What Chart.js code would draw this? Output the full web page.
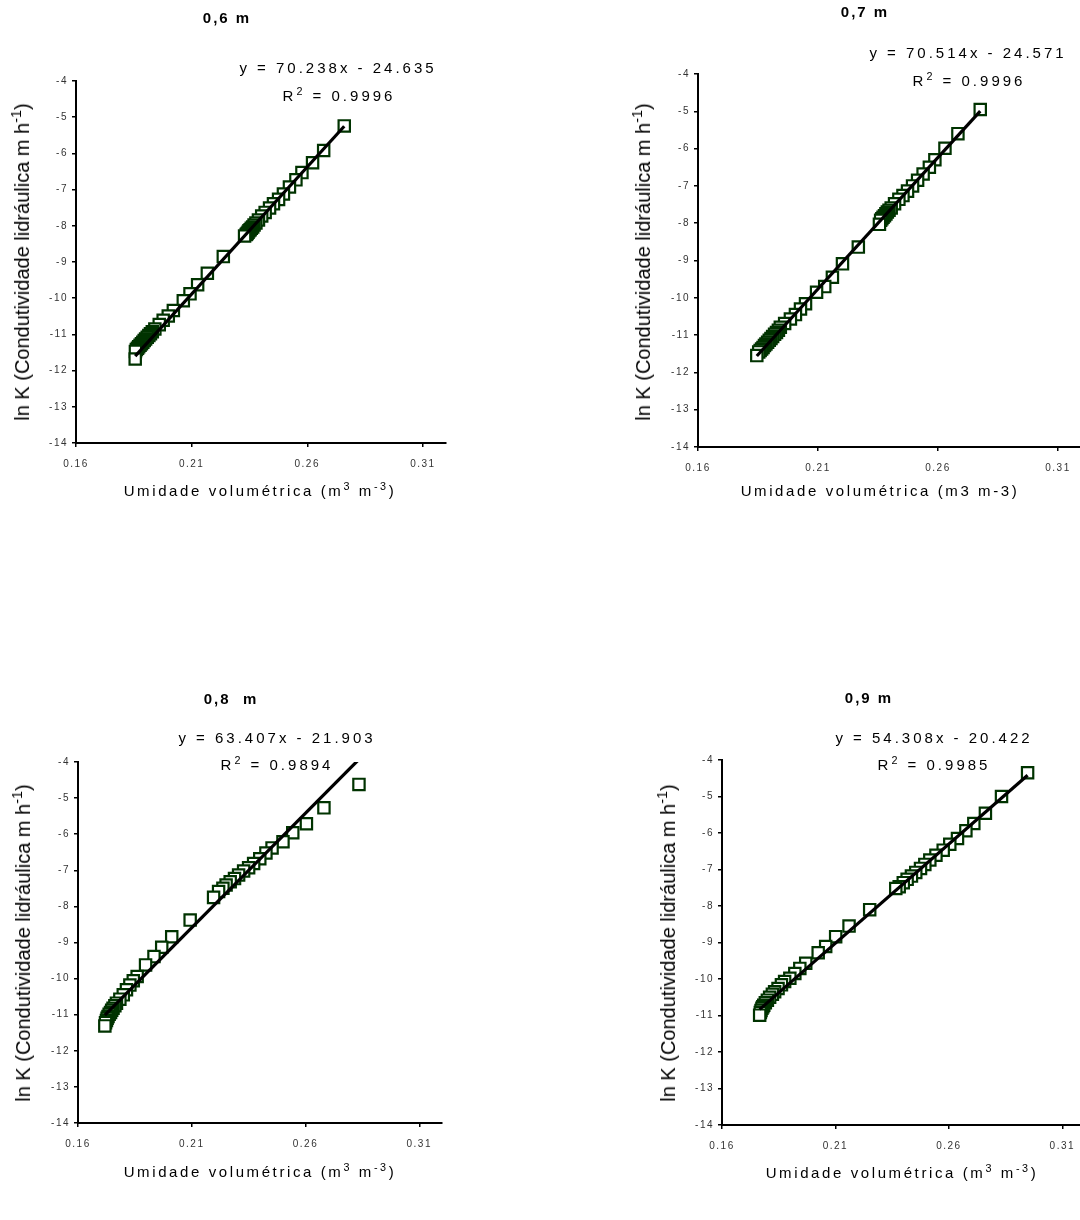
<!DOCTYPE html>
<html lang="pt">
<head>
<meta charset="utf-8">
<title>ln K x Umidade volumétrica</title>
<script src="https://cdn.jsdelivr.net/npm/chart.js@4.4.1/dist/chart.umd.min.js"></script>
<style>
  html, body { margin: 0; padding: 0; background: #fff; }
  body {
    width: 1080px; height: 1220px; overflow: hidden; position: relative;
    font-family: "Liberation Sans", Arial, sans-serif; color: #000;
  }
  .painel { position: absolute; }
  .txt { position: absolute; transform: translate(-50%, -50%); white-space: pre; line-height: 1; }
  .titulo { font-weight: bold; font-size: 15px; letter-spacing: 2px; }
  .eq { font-size: 15px; letter-spacing: 3px; }
  .eixoX { font-size: 15px; letter-spacing: 2.6px; }
  .eixoY { font-size: 20px; transform: translate(-50%, -50%) rotate(-90deg); }
  sup { font-size: 72%; line-height: 0; }
</style>
</head>
<body>

<script>
const profundidades = ["0,6 m", "0,7 m", "0,8  m", "0,9 m"];
const equacoes = ["y = 70.238x - 24.635", "y = 70.514x - 24.571", "y = 63.407x - 21.903", "y = 54.308x - 20.422"];
const valoresR2 = ["0.9996", "0.9996", "0.9894", "0.9985"];
const inclinacao = [70.238, 70.514, 63.407, 54.308];
const intercepto = [-24.635, -24.571, -21.903, -20.422];

const xTicks = [0.16, 0.21, 0.26, 0.31];
const yTicks = [-14, -13, -12, -11, -10, -9, -8, -7, -6, -5, -4];

// 0,6 m
const umidade06 = [0.2760, 0.2671, 0.2623, 0.2577, 0.2551, 0.2523, 0.2497, 0.2476, 0.2454, 0.2437, 0.2418, 0.2403, 0.2389,
  0.2378, 0.2370, 0.2364, 0.2358, 0.2353, 0.2348, 0.2344, 0.2340, 0.2336, 0.2329,
  0.2237, 0.2168, 0.2126, 0.2093, 0.2064, 0.2021, 0.1999, 0.1977, 0.1960, 0.1941,
  0.1930, 0.1922, 0.1915, 0.1908, 0.1901, 0.1895, 0.1889, 0.1883, 0.1877, 0.1871, 0.1866, 0.1861, 0.1857, 0.1856];
const lnK06 = [-5.24, -5.92, -6.26, -6.53, -6.73, -6.93, -7.12, -7.27, -7.39, -7.51, -7.63, -7.73, -7.84,
  -7.92, -7.98, -8.03, -8.07, -8.11, -8.14, -8.18, -8.21, -8.24, -8.28,
  -8.85, -9.31, -9.63, -9.88, -10.07, -10.34, -10.49, -10.61, -10.73, -10.85,
  -10.93, -10.98, -11.03, -11.08, -11.13, -11.17, -11.22, -11.26, -11.30, -11.34, -11.38, -11.42, -11.47, -11.68];

// 0,7 m
const umidade07 = [0.2776, 0.2683, 0.2629, 0.2587, 0.2564, 0.2538, 0.2515, 0.2494, 0.2473, 0.2454, 0.2437, 0.2419, 0.2405,
  0.2396, 0.2389, 0.2383, 0.2377, 0.2371, 0.2366, 0.2361, 0.2356,
  0.2268, 0.2202, 0.2160, 0.2128, 0.2094, 0.2048, 0.2027, 0.2006, 0.1985, 0.1961, 0.1943,
  0.1935, 0.1927, 0.1919, 0.1911, 0.1904, 0.1897, 0.1890, 0.1883, 0.1877, 0.1871, 0.1865, 0.1859, 0.1853, 0.1845];
const lnK07 = [-4.95, -5.60, -5.99, -6.30, -6.50, -6.68, -6.85, -7.00, -7.14, -7.26, -7.36, -7.48, -7.59,
  -7.65, -7.70, -7.75, -7.80, -7.84, -7.88, -7.92, -8.03,
  -8.64, -9.09, -9.45, -9.70, -9.85, -10.16, -10.30, -10.45, -10.57, -10.69, -10.79,
  -10.87, -10.93, -10.98, -11.04, -11.09, -11.14, -11.19, -11.24, -11.28, -11.33, -11.37, -11.41, -11.45, -11.55];

// 0,8 m
const umidade08 = [0.2835, 0.2681, 0.2604, 0.2544, 0.2501, 0.2453, 0.2426, 0.2399, 0.2372, 0.2350, 0.2328, 0.2306,
  0.2288, 0.2269, 0.2251, 0.2237, 0.2218, 0.2196,
  0.2093, 0.2012, 0.1968, 0.1934, 0.1897, 0.1860, 0.1843, 0.1828, 0.1813, 0.1799, 0.1784,
  0.1769, 0.1762, 0.1754, 0.1748, 0.1743, 0.1737, 0.1732, 0.1728, 0.1725, 0.1721, 0.1718];
const lnK08 = [-4.62, -5.27, -5.71, -5.96, -6.21, -6.38, -6.52, -6.68, -6.81, -6.93, -7.02, -7.13,
  -7.23, -7.32, -7.41, -7.50, -7.59, -7.75,
  -8.38, -8.84, -9.13, -9.39, -9.62, -9.94, -10.06, -10.18, -10.31, -10.45, -10.57,
  -10.68, -10.75, -10.82, -10.88, -10.94, -10.99, -11.05, -11.10, -11.16, -11.22, -11.31];

// 0,9 m
const umidade09 = [0.2947, 0.2832, 0.2761, 0.2710, 0.2675, 0.2638, 0.2604, 0.2575, 0.2543, 0.2516, 0.2494, 0.2475,
  0.2454, 0.2435, 0.2416, 0.2399, 0.2381, 0.2366,
  0.2251, 0.2160, 0.2101, 0.2057, 0.2024, 0.1969, 0.1943, 0.1921, 0.1899, 0.1876, 0.1862,
  0.1847, 0.1832, 0.1822, 0.1810, 0.1800, 0.1791, 0.1784, 0.1780, 0.1776, 0.1772, 0.1769, 0.1766];
const lnK09 = [-4.35, -5.00, -5.46, -5.74, -5.94, -6.15, -6.31, -6.47, -6.61, -6.74, -6.86, -6.97,
  -7.08, -7.18, -7.27, -7.36, -7.47, -7.52,
  -8.10, -8.55, -8.84, -9.11, -9.28, -9.57, -9.71, -9.85, -9.98, -10.07, -10.16,
  -10.26, -10.35, -10.42, -10.50, -10.58, -10.65, -10.72, -10.76, -10.80, -10.86, -10.92, -10.99];

const umidades = [umidade06, umidade07, umidade08, umidade09];
const lnKs = [lnK06, lnK07, lnK08, lnK09];

// posição de cada painel na página (canvas + textos)
const paineis = [
  { left: 0, top: 0, w: 540, h: 610, pad: { left: 16, top: 81, right: 94, bottom: 137 },
    titulo: [227, 17], eq: [338, 67], r2: [339, 95], eixoY: [22, 262], eixoX: [260, 490], sup: true },
  { left: 540, top: 0, w: 560, h: 610, pad: { left: 98, top: 74, right: 18, bottom: 133 },
    titulo: [865, 11], eq: [968, 52], r2: [969, 80], eixoY: [643, 262], eixoX: [880, 490], sup: false },
  { left: 0, top: 610, w: 540, h: 610, pad: { left: 18, top: 152, right: 98, bottom: 67 },
    titulo: [231, 698], eq: [277, 737], r2: [277, 764], eixoY: [23, 943], eixoX: [260, 1171], sup: true },
  { left: 540, top: 610, w: 560, h: 610, pad: { left: 122, top: 150, right: 15, bottom: 65 },
    titulo: [869, 697], eq: [934, 737], r2: [934, 764], eixoY: [668, 943], eixoX: [902, 1172], sup: true }
];

const espacoTicks = {
  id: "espacoTicks",
  beforeDraw(chart) { chart.ctx.letterSpacing = "1.5px"; }
};

function addTexto(cls, pos, html) {
  const d = document.createElement("div");
  d.className = "txt " + cls;
  d.style.left = pos[0] + "px";
  d.style.top = pos[1] + "px";
  d.innerHTML = html;
  document.body.appendChild(d);
}

function eixo(ticks, min, max, extra) {
  return Object.assign({
    type: "linear",
    min: min,
    max: max,
    afterBuildTicks: s => { s.ticks = ticks.map(v => ({ value: v })); },
    grid: { display: true, drawOnChartArea: false, drawTicks: true, tickLength: 4, color: "#000", lineWidth: 1.5 },
    border: { display: true, color: "#000", width: 2 },
    ticks: { color: "#333", font: { family: "Liberation Sans", size: 10 } }
  }, extra);
}

function criarGrafico(i) {
  const p = paineis[i];
  const box = document.createElement("div");
  box.className = "painel";
  box.style.left = p.left + "px";
  box.style.top = p.top + "px";
  const cv = document.createElement("canvas");
  cv.width = p.w;
  cv.height = p.h;
  box.appendChild(cv);
  document.body.appendChild(box);

  const xs = umidades[i];
  const ys = lnKs[i];
  const pontos = xs.map((x, k) => ({ x: x, y: ys[k] }));
  const xMin = Math.min(...xs), xMax = Math.max(...xs);
  const tendencia = [
    { x: xMin, y: inclinacao[i] * xMin + intercepto[i] },
    { x: xMax, y: inclinacao[i] * xMax + intercepto[i] }
  ];

  new Chart(cv, {
    type: "scatter",
    data: {
      datasets: [
        { data: tendencia, showLine: true, borderColor: "#000", borderWidth: 3.2, pointRadius: 0, order: 0 },
        { data: pontos, pointStyle: "rect", pointRadius: 8, borderWidth: 2.2,
          borderColor: "#003300", backgroundColor: "#fff", order: 1 }
      ]
    },
    options: {
      responsive: false,
      animation: false,
      events: [],
      layout: { padding: p.pad },
      plugins: { legend: { display: false }, tooltip: { enabled: false } },
      scales: {
        x: eixo(xTicks, 0.16, 0.32, {
          afterFit: s => { s.height = 30; },
          ticks: { color: "#333", padding: 11, font: { family: "Liberation Sans", size: 10 },
                   callback: v => Number(v).toFixed(2) }
        }),
        y: eixo(yTicks, -14, -4, {
          afterFit: s => { s.width = 60; },
          ticks: { color: "#333", padding: 4, font: { family: "Liberation Sans", size: 10 } }
        })
      }
    },
    plugins: [espacoTicks]
  });

  addTexto("titulo", p.titulo, profundidades[i]);
  addTexto("eq", p.eq, equacoes[i]);
  addTexto("eq", p.r2, "R<sup>2</sup> = " + valoresR2[i]);
  addTexto("eixoY", p.eixoY, "ln K (Condutividade lidráulica m h<sup>-1</sup>)");
  addTexto("eixoX", p.eixoX, p.sup
    ? "Umidade volumétrica (m<sup>3</sup> m<sup>-3</sup>)"
    : "Umidade volumétrica (m3 m-3)");
}

document.addEventListener("DOMContentLoaded", () => {
  paineis.forEach((p, i) => criarGrafico(i));
});
</script>
</body>
</html>
